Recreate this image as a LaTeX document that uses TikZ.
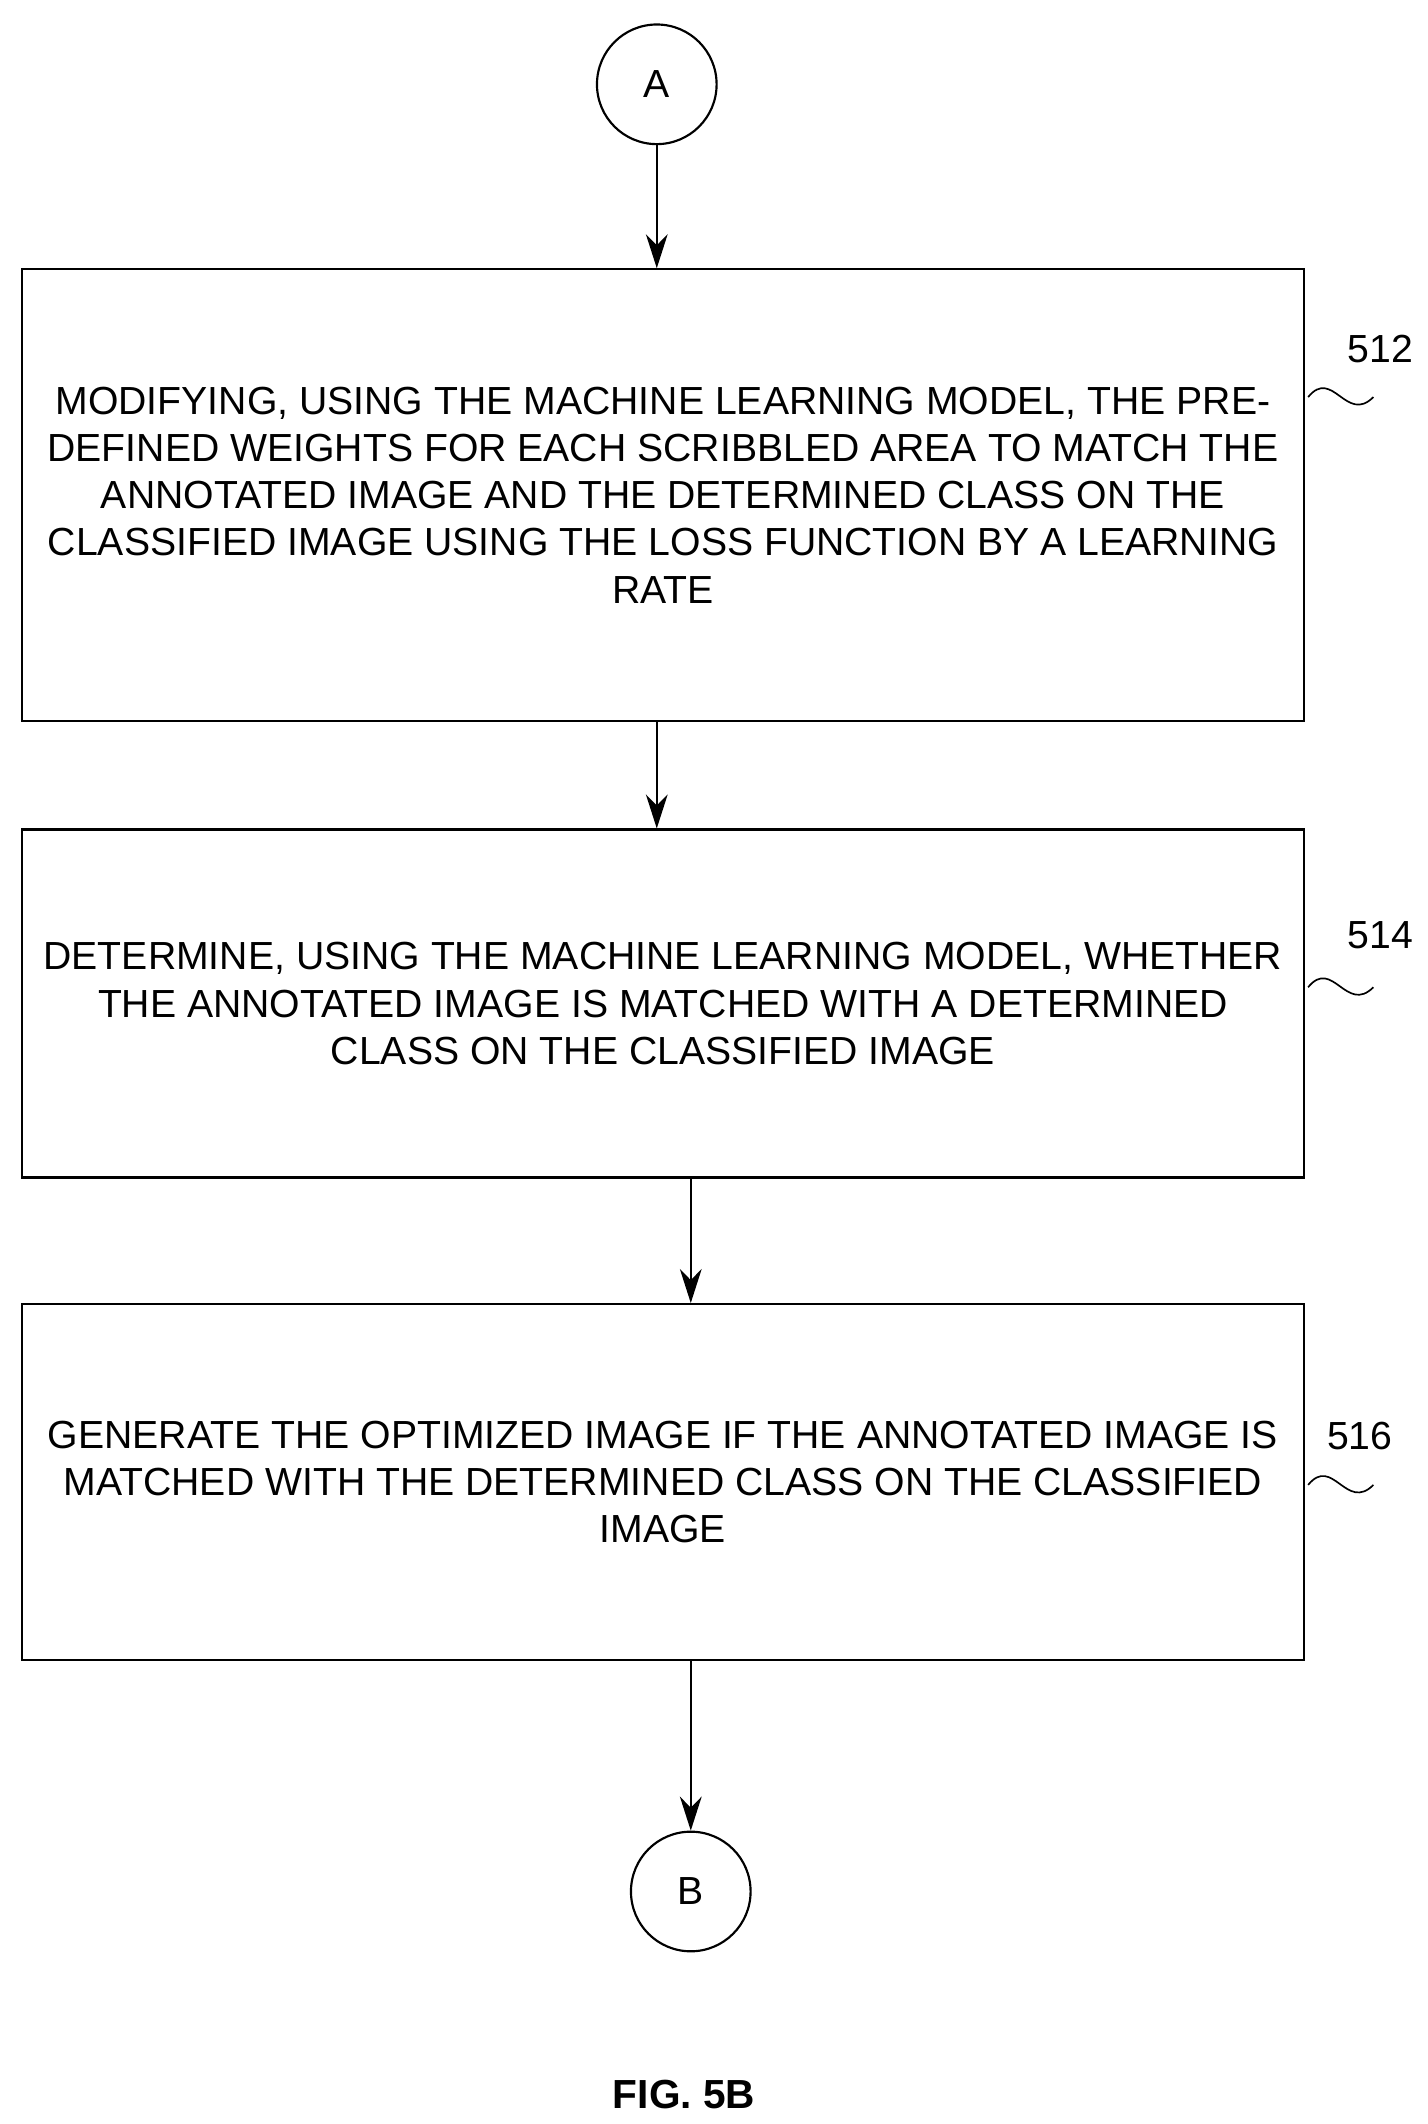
\documentclass[tikz,border=0pt]{standalone}
\usepackage{fontspec}
\setmainfont{Liberation Sans}
\usetikzlibrary{arrows.meta, positioning, calc}

\begin{document}
\begin{tikzpicture}[x=0.02cm, y=-0.02cm, >={Stealth[length=0.5cm,width=0.32cm]},
  procbox/.style={draw, line width=0.9pt, minimum width=18.86cm, align=center,
    font=\fontsize{16.4}{19.8}\selectfont},
  conn/.style={draw, circle, line width=0.9pt, minimum size=1.76cm, font=\fontsize{16.4}{18}\selectfont},
  ref/.style={font=\fontsize{16.4}{18}\selectfont},
  flow/.style={->, line width=0.9pt}]
  \useasboundingbox (0,0) rectangle (1050,1562);

  % off-page connectors
  \node[conn] (A) at (483,62) {A};
  \node[conn] (B) at (508,1391) {B};

  % process steps
  \node[procbox, minimum height=6.64cm] (s512) at (487.5,364) {MODIFYING, USING THE MACHINE LEARNING MODEL, THE PRE-\\DEFINED WEIGHTS FOR EACH SCRIBBLED AREA TO MATCH THE\\ANNOTATED IMAGE AND THE DETERMINED CLASS ON THE\\CLASSIFIED IMAGE USING THE LOSS FUNCTION BY A LEARNING\\RATE};
  \node[procbox, minimum height=5.12cm] (s514) at (487.5,738) {DETERMINE, USING THE MACHINE LEARNING MODEL, WHETHER\\THE ANNOTATED IMAGE IS MATCHED WITH A DETERMINED\\CLASS ON THE CLASSIFIED IMAGE};
  \node[procbox, minimum height=5.24cm] (s516) at (487.5,1090) {GENERATE THE OPTIMIZED IMAGE IF THE ANNOTATED IMAGE IS\\MATCHED WITH THE DETERMINED CLASS ON THE CLASSIFIED\\IMAGE};

  % reference numerals with squiggles
  \node[ref] (r512) at (1015,257) {512};
  \node[ref] (r514) at (1015,688) {514};
  \node[ref] (r516) at (1000,1056) {516};
  \draw[line width=0.7pt] (962,292) .. controls (980,270) and (990,312) .. (1010,292);
  \draw[line width=0.7pt] (962,726) .. controls (980,704) and (990,746) .. (1010,726);
  \draw[line width=0.7pt] (962,1092) .. controls (980,1070) and (990,1112) .. (1010,1092);

  % flow
  \draw[flow] (A) -- (s512.north -| A);
  \draw[flow] (s512.south -| A) -- (s514.north -| A);
  \draw[flow] (s514.south -| B) -- (s516.north -| B);
  \draw[flow] (s516.south -| B) -- (B);

  \node[font=\bfseries\fontsize{17}{20}\selectfont] (fig) at (503,1540) {FIG. 5B};
\end{tikzpicture}
\end{document}
